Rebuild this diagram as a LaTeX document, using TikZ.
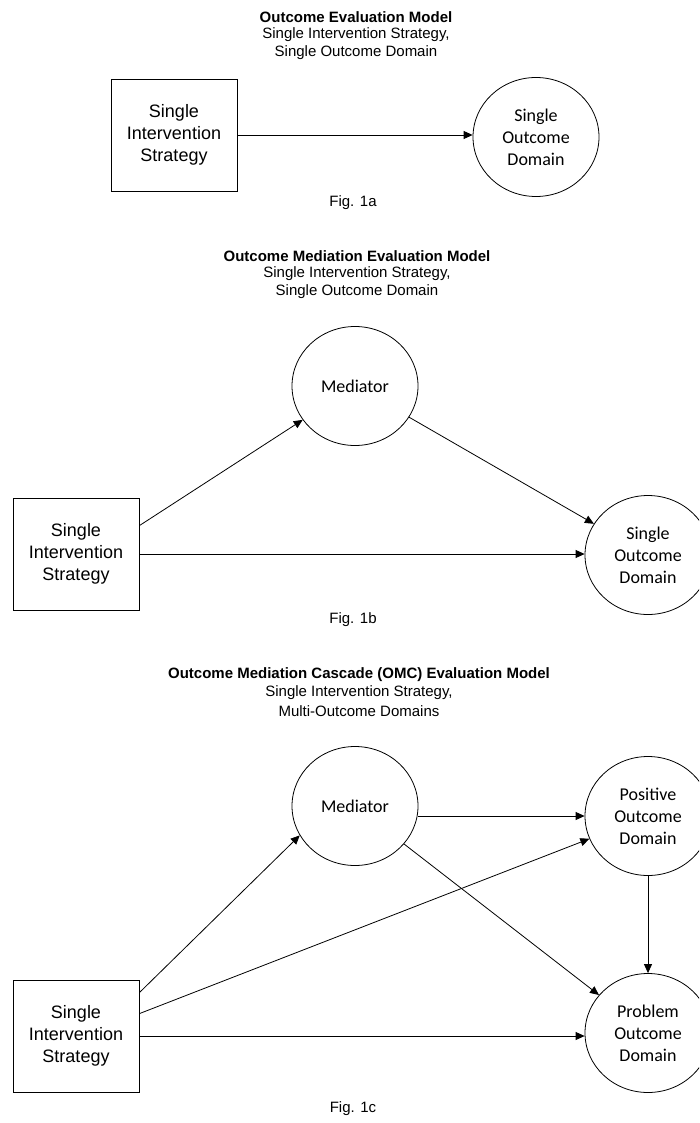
\documentclass[tikz,border=0pt]{standalone}
\usepackage{fontspec}
\setmainfont{Liberation Sans}
\newfontfamily\calfont{Carlito}
\usetikzlibrary{shapes.geometric,arrows.meta,calc}
\tikzset{
  stratbox/.style={draw,line width=0.8pt,minimum width=126pt,minimum height=112pt,inner sep=0pt,align=center,font=\fontsize{18}{22}\selectfont},
  domcirc/.style={draw,ellipse,line width=0.8pt,minimum width=126pt,minimum height=119pt,inner sep=0pt,align=center,font=\calfont\fontsize{18}{22}\selectfont},
  ttl/.style={inner sep=0pt,font=\bfseries\fontsize{15}{17}\selectfont},
  subttl/.style={inner sep=0pt,font=\fontsize{15}{17}\selectfont},
  figlbl/.style={inner sep=0pt,font=\fontsize{15}{17}\selectfont},
  arr/.style={line width=0.8pt,-{Triangle[length=9pt,width=8pt]}}
}
\begin{document}
\begin{tikzpicture}[x=1pt,y=-1pt]
\clip (0,0) rectangle (699,1123);
\fill[white] (0,0) rectangle (699,1123);
% ---------- Fig 1a ----------
\node[ttl] (t1a) at (356,17) {Outcome Evaluation Model};
\node[subttl] (s1a) at (356,35) {Single Intervention Strategy,};
\node[subttl] (u1a) at (356,53) {Single Outcome Domain};
\node[stratbox] (b1) at (174,135) {Single\\Intervention\\Strategy};
\node[domcirc] (o1) at (536,137) {Single\\Outcome\\Domain};
\draw[arr] (b1.east) -- (b1.east -| o1.west);
\node[figlbl] (f1) at (353,203) {Fig. 1a};
% ---------- Fig 1b ----------
\node[ttl] (t1b) at (357,256) {Outcome Mediation Evaluation Model};
\node[subttl] (s1b) at (357,274) {Single Intervention Strategy,};
\node[subttl] (u1b) at (357,292) {Single Outcome Domain};
\node[stratbox] (b2) at (76,554) {Single\\Intervention\\Strategy};
\node[domcirc] (m2) at (355,386) {Mediator};
\node[domcirc] (o2) at (648,555) {Single\\Outcome\\Domain};
\draw[arr] ([yshift=-28pt]b2.north east) -- (m2);
\draw[arr] (m2) -- (o2);
\draw[arr] (b2.east) -- (b2.east -| o2.west);
\node[figlbl] (f2) at (353,620) {Fig. 1b};
% ---------- Fig 1c ----------
\node[ttl] (t1c) at (359,675) {Outcome Mediation Cascade (OMC) Evaluation Model};
\node[subttl] (s1c) at (359,693) {Single Intervention Strategy,};
\node[subttl] (u1c) at (359,711) {Multi-Outcome Domains};
\node[stratbox] (b3) at (76,1036) {Single\\Intervention\\Strategy};
\node[domcirc] (m3) at (355,806) {Mediator};
\node[domcirc] (p3) at (648,816) {Positive\\Outcome\\Domain};
\node[domcirc] (q3) at (648,1033) {Problem\\Outcome\\Domain};
\draw[arr] ([yshift=-13pt]b3.north east) -- (m3.208);
\draw[arr] ([yshift=-34pt]b3.north east) -- (p3);
\draw[arr] (b3.east) -- (b3.east -| q3.west);
\draw[arr] (m3.east |- p3.west) -- (p3.west);
\draw[arr] (m3) -- (q3);
\draw[arr] (p3.south) -- (q3.north);
\node[figlbl] (f3) at (353,1109) {Fig. 1c};
\end{tikzpicture}
\end{document}
